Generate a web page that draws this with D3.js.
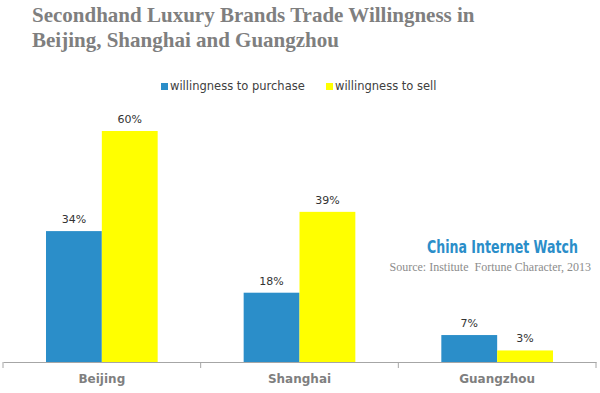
<!DOCTYPE html>
<html><head><meta charset="utf-8">
<script src="https://cdn.jsdelivr.net/npm/d3@7"></script>
<style>body{margin:0;background:#fff}svg{display:block}</style>
</head><body>
<script>
const categories = ["Beijing", "Shanghai", "Guangzhou"];
const seriesNames = ["willingness to purchase", "willingness to sell"];
const purchase = [34, 18, 7];
const sell = [60, 39, 3];
const colors = ["#2b8ec9", "#ffff00"];

const W = 600, H = 393;
const svg = d3.select("body").append("svg").attr("width", W).attr("height", H);

const x = d3.scaleBand().domain(categories).range([3, 596]).paddingInner(0).paddingOuter(0);
const x1 = d3.scaleBand().domain(seriesNames).range([0, x.bandwidth()]).paddingInner(0).paddingOuter(0.77);
const y = d3.scaleLinear().domain([0, 60]).range([362, 131]);

// title
const title = svg.append("text").attr("font-family", "'Liberation Serif', 'DejaVu Serif', serif")
  .attr("font-weight", "bold").attr("font-size", 21).attr("fill", "#7f7f7f");
title.append("tspan").attr("x", 32).attr("y", 22).text("Secondhand Luxury Brands Trade Willingness in");
title.append("tspan").attr("x", 32).attr("y", 47).text("Beijing, Shanghai and Guangzhou");

// legend
const legend = svg.append("g");
const legX = [161, 326];
seriesNames.forEach((s, i) => {
  legend.append("rect").attr("x", legX[i]).attr("y", 83).attr("width", 7).attr("height", 7).attr("fill", colors[i]);
  legend.append("text").attr("x", legX[i] + 9).attr("y", 90).attr("font-family", "'DejaVu Sans', sans-serif")
    .attr("font-size", 11.5).attr("fill", "#404040").text(s);
});

// bars
const data = categories.map((c, i) => ({ c, vals: [purchase[i], sell[i]] }));
const g = svg.append("g");
data.forEach(d => {
  d.vals.forEach((v, j) => {
    const bx = x(d.c) + x1(seriesNames[j]);
    g.append("rect").attr("x", bx).attr("y", y(v)).attr("width", x1.bandwidth()).attr("height", y(0) - y(v)).attr("fill", colors[j]);
    g.append("text").attr("x", bx + x1.bandwidth() / 2).attr("y", y(v) - 8).attr("text-anchor", "middle")
      .attr("font-family", "'DejaVu Sans', sans-serif").attr("font-size", 11).attr("fill", "#333").text(v + "%");
  });
});

// axis
const axis = d3.axisBottom(x).tickSize(0).tickPadding(12);
const ag = svg.append("g").attr("transform", "translate(0,362)").call(axis);
ag.select(".domain").attr("stroke", "#a6a6a6");
ag.selectAll(".tick text").attr("font-family", "'DejaVu Sans', sans-serif").attr("font-size", 12)
  .attr("font-weight", "bold").attr("fill", "#7f7f7f");
const bounds = categories.map(c => x(c)).concat([x.range()[1]]);
ag.selectAll(".sep").data(bounds).enter().append("line").attr("class", "sep")
  .attr("x1", d => d).attr("x2", d => d).attr("y1", 0).attr("y2", 6).attr("stroke", "#a6a6a6");

// watermark
svg.append("g").attr("transform", "translate(578,253) scale(0.72,1)")
  .append("text").attr("x", 0).attr("y", 0).attr("text-anchor", "end")
  .attr("font-family", "'DejaVu Sans', sans-serif").attr("font-weight", "bold")
  .attr("font-size", 17.5).attr("fill", "#2b8ec9").text("China Internet Watch");
svg.append("text").attr("x", 591).attr("y", 271).attr("text-anchor", "end")
  .attr("font-family", "'Liberation Serif', serif").attr("font-size", 12).attr("fill", "#8c8c8c")
  .style("white-space", "pre")
  .text("Source: Institute  Fortune Character, 2013");
</script>
</body></html>
